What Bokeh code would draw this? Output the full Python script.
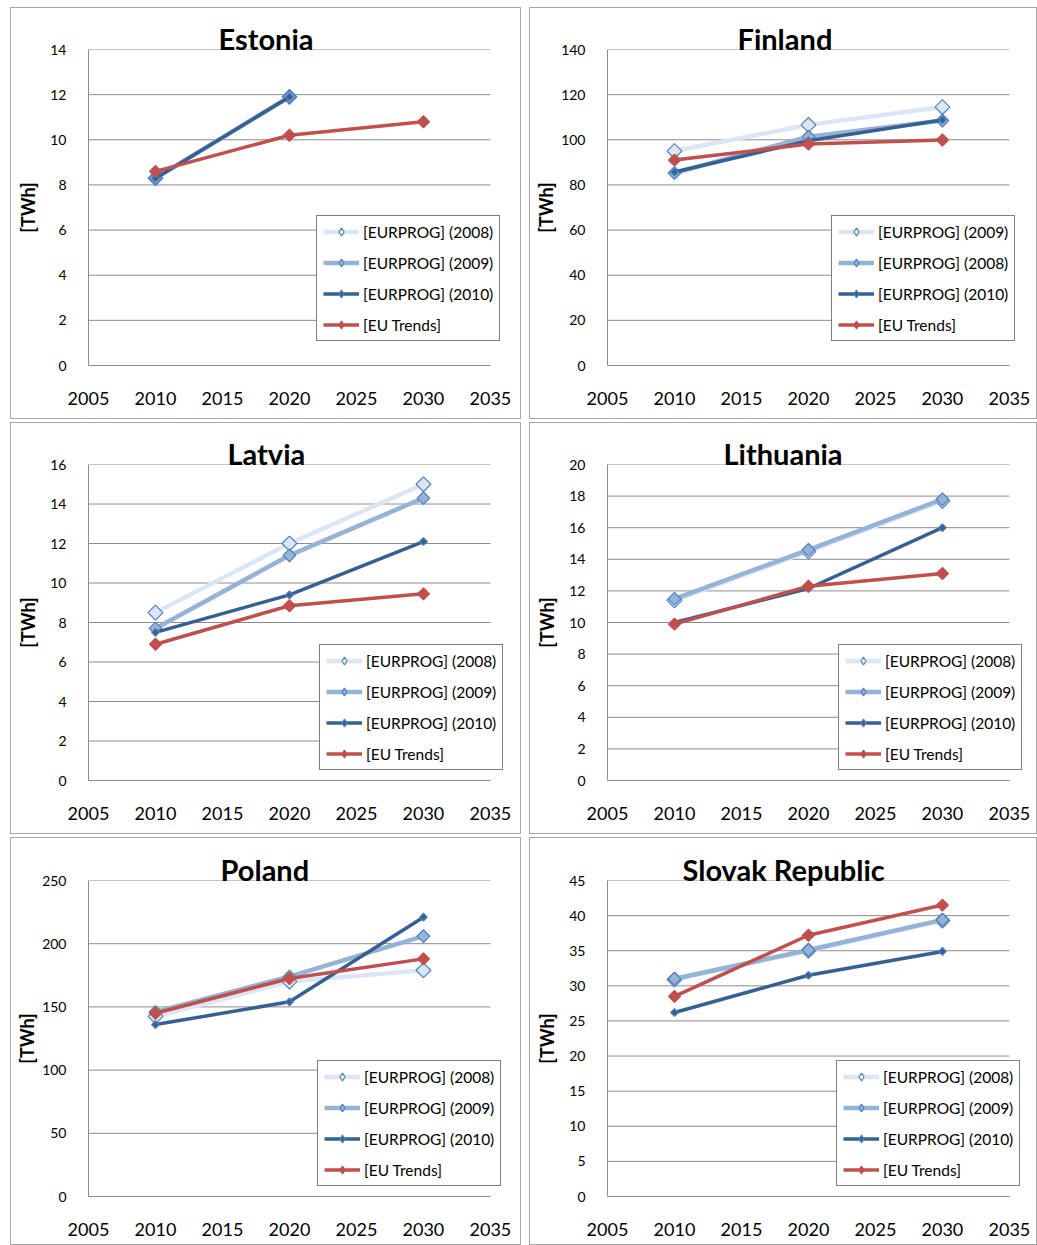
import math
from bokeh.plotting import figure
from bokeh.layouts import column, row
from bokeh.models import Range1d, Legend, LegendItem, FixedTicker
from bokeh.embed import file_html
from bokeh.resources import INLINE

nan = float("nan")

# Forecast years shared by every country
years = [2010, 2020, 2030]
x_ticks = [2005, 2010, 2015, 2020, 2025, 2030, 2035]

# Electricity demand forecasts, TWh
estonia_eurprog_2008 = [8.3, 11.9, nan]
estonia_eurprog_2009 = [8.3, 11.9, nan]
estonia_eurprog_2010 = [8.3, 11.9, nan]
estonia_eu_trends = [8.6, 10.2, 10.8]

finland_eurprog_2009 = [95.0, 106.6, 114.5]
finland_eurprog_2008 = [85.3, 101.4, 108.5]
finland_eurprog_2010 = [85.7, 99.6, 108.8]
finland_eu_trends = [91.0, 98.1, 99.9]

latvia_eurprog_2008 = [8.5, 12.0, 15.0]
latvia_eurprog_2009 = [7.7, 11.4, 14.3]
latvia_eurprog_2010 = [7.5, 9.4, 12.1]
latvia_eu_trends = [6.9, 8.85, 9.45]

lithuania_eurprog_2008 = [11.4, 14.5, 17.7]
lithuania_eurprog_2009 = [11.5, 14.6, 17.8]
lithuania_eurprog_2010 = [10.0, 12.15, 16.0]
lithuania_eu_trends = [9.9, 12.3, 13.1]

poland_eurprog_2008 = [142.5, 170.0, 179.0]
poland_eurprog_2009 = [146.0, 174.0, 206.0]
poland_eurprog_2010 = [136.0, 154.0, 221.0]
poland_eu_trends = [145.0, 172.5, 188.0]

slovakia_eurprog_2008 = [30.9, 35.0, 39.3]
slovakia_eurprog_2009 = [31.0, 35.1, 39.4]
slovakia_eurprog_2010 = [26.2, 31.5, 34.9]
slovakia_eu_trends = [28.5, 37.2, 41.5]

labels_standard = ["[EURPROG] (2008)", "[EURPROG] (2009)", "[EURPROG] (2010)", "[EU Trends]"]
labels_finland = ["[EURPROG] (2009)", "[EURPROG] (2008)", "[EURPROG] (2010)", "[EU Trends]"]

y_ticks_estonia = [0, 2, 4, 6, 8, 10, 12, 14]
y_ticks_finland = [0, 20, 40, 60, 80, 100, 120, 140]
y_ticks_latvia = [0, 2, 4, 6, 8, 10, 12, 14, 16]
y_ticks_lithuania = [0, 2, 4, 6, 8, 10, 12, 14, 16, 18, 20]
y_ticks_poland = [0, 50, 100, 150, 200, 250]
y_ticks_slovakia = [0, 5, 10, 15, 20, 25, 30, 35, 40, 45]

FONT = "Lato"
GRID = "#8c8c8c"
PLOT_W = 400          # pixels taken by 2005..2035
LEGEND_ROOM = 17      # extra frame width so the legend box can reach past 2035
PLOT_H = 314

# line / marker look of the four series, in drawing order
STYLES = [
    dict(line="#dce6f2", width=4.5, fill="#dce6f2", edge="#4f81bd", size=10.5, leg_fill="#ffffff", leg_size=12.5),
    dict(line="#95b3d7", width=4.5, fill="#95b3d7", edge="#4f81bd", size=9.0, leg_fill="#95b3d7", leg_size=12.5),
    dict(line="#376092", width=3.5, fill="#376092", edge="#4f81bd", size=5.5, leg_fill="#376092", leg_size=8),
    dict(line="#c0504d", width=3.5, fill="#c0504d", edge="#c0504d", size=8.5, leg_fill="#c0504d", leg_size=12.5),
]


def make_panel(title, title_left, series, labels, y_ticks, outer_w, outer_h,
               border_left, border_top, legend_loc):
    inner_w, inner_h = outer_w - 2, outer_h - 2
    x0, x1 = x_ticks[0], x_ticks[-1]
    x_end = x1 + LEGEND_ROOM * (x1 - x0) / PLOT_W
    frame_w = PLOT_W + LEGEND_ROOM
    p = figure(
        width=outer_w, height=outer_h,
        x_range=Range1d(x0, x_end), y_range=Range1d(0, y_ticks[-1]),
        output_backend="svg", toolbar_location=None,
        min_border_left=border_left, min_border_right=inner_w - border_left - frame_w,
        min_border_top=border_top, min_border_bottom=inner_h - border_top - PLOT_H,
        styles={"border": "1px solid #a6a6a6", "box-sizing": "border-box"},
    )
    p.outline_line_color = None
    p.background_fill_color = "white"
    p.border_fill_color = "white"

    # horizontal gridlines limited to the 2005..2035 span
    p.xgrid.visible = False
    p.ygrid.visible = False
    n = len(y_ticks)
    p.segment(x0=[x0] * n, y0=y_ticks, x1=[x1] * n, y1=y_ticks, line_color=GRID, line_width=1)

    xa, ya = p.xaxis[0], p.yaxis[0]
    xa.ticker = FixedTicker(ticks=x_ticks)
    xa.bounds = (x0, x1)
    ya.ticker = FixedTicker(ticks=y_ticks)
    for ax in (xa, ya):
        ax.axis_line_color = GRID
        ax.major_tick_line_color = None
        ax.minor_tick_line_color = None
        ax.major_label_text_font = FONT
        ax.major_label_text_color = "black"
    xa.major_label_text_font_size = "18px"
    xa.major_label_standoff = 20
    ya.major_label_text_font_size = "14px"
    ya.major_label_standoff = 16
    ya.axis_label = "[TWh]"
    ya.axis_label_text_font = FONT
    ya.axis_label_text_font_style = "bold"
    ya.axis_label_text_font_size = "18px"
    ya.axis_label_text_color = "black"
    # wider (three digit) tick labels leave less room before the frame
    ya.axis_label_standoff = 8 if len(str(y_ticks[-1])) <= 2 else 1

    for values, st in zip(series, STYLES):
        p.line(years, values, line_color=st["line"], line_width=st["width"], line_join="round")
        p.scatter(years, values, marker="square", angle=math.pi / 4, size=st["size"],
                  fill_color=st["fill"], line_color=st["edge"], line_width=1.2)

    items = []
    for lab, st in zip(labels, STYLES):
        lr = p.line([nan], [nan], line_color=st["line"], line_width=st["width"])
        mr = p.scatter([nan], [nan], marker="diamond", size=st["leg_size"],
                       fill_color=st["leg_fill"], line_color=st["edge"], line_width=1.2)
        items.append(LegendItem(label=lab, renderers=[lr, mr]))
    legend = Legend(
        items=items, location=legend_loc, margin=0, padding=6, spacing=12,
        label_height=19, glyph_height=19, glyph_width=36, label_standoff=4,
        label_text_font=FONT, label_text_font_size="15.5px", label_text_color="black",
        border_line_color="black", border_line_width=1,
        background_fill_color="white", background_fill_alpha=1.0,
    )
    p.add_layout(legend)

    p.title.text = title
    p.title.align = "left"
    p.title.offset = title_left
    p.title.standoff = -12
    p.title.text_font = FONT
    p.title.text_font_style = "bold"
    p.title.text_font_size = "29px"
    p.title.text_color = "black"
    return p


p_est = make_panel("Estonia", 130,
                   [estonia_eurprog_2008, estonia_eurprog_2009, estonia_eurprog_2010, estonia_eu_trends],
                   labels_standard, y_ticks_estonia, 511, 412, 77, 41, (228, 24))
p_fin = make_panel("Finland", 130,
                   [finland_eurprog_2009, finland_eurprog_2008, finland_eurprog_2010, finland_eu_trends],
                   labels_finland, y_ticks_finland, 508, 412, 77, 41, (224, 24))
p_lat = make_panel("Latvia", 139,
                   [latvia_eurprog_2008, latvia_eurprog_2009, latvia_eurprog_2010, latvia_eu_trends],
                   labels_standard, y_ticks_latvia, 511, 412, 77, 41, (231, 10))
p_lit = make_panel("Lithuania", 116,
                   [lithuania_eurprog_2008, lithuania_eurprog_2009, lithuania_eurprog_2010, lithuania_eu_trends],
                   labels_standard, y_ticks_lithuania, 508, 412, 77, 41, (231, 10))
p_pol = make_panel("Poland", 132,
                   [poland_eurprog_2008, poland_eurprog_2009, poland_eurprog_2010, poland_eu_trends],
                   labels_standard, y_ticks_poland, 511, 408, 77, 42, (229, 10))
p_svk = make_panel("Slovak Republic", 75,
                   [slovakia_eurprog_2008, slovakia_eurprog_2009, slovakia_eurprog_2010, slovakia_eu_trends],
                   labels_standard, y_ticks_slovakia, 508, 408, 77, 42, (229, 10))

layout = column(
    row(p_est, p_fin, spacing=8),
    row(p_lat, p_lit, spacing=8),
    row(p_pol, p_svk, spacing=8),
    spacing=3, margin=(7, 0, 0, 10),
)

with open("out.html", "w") as f:
    f.write(file_html(layout, INLINE))
